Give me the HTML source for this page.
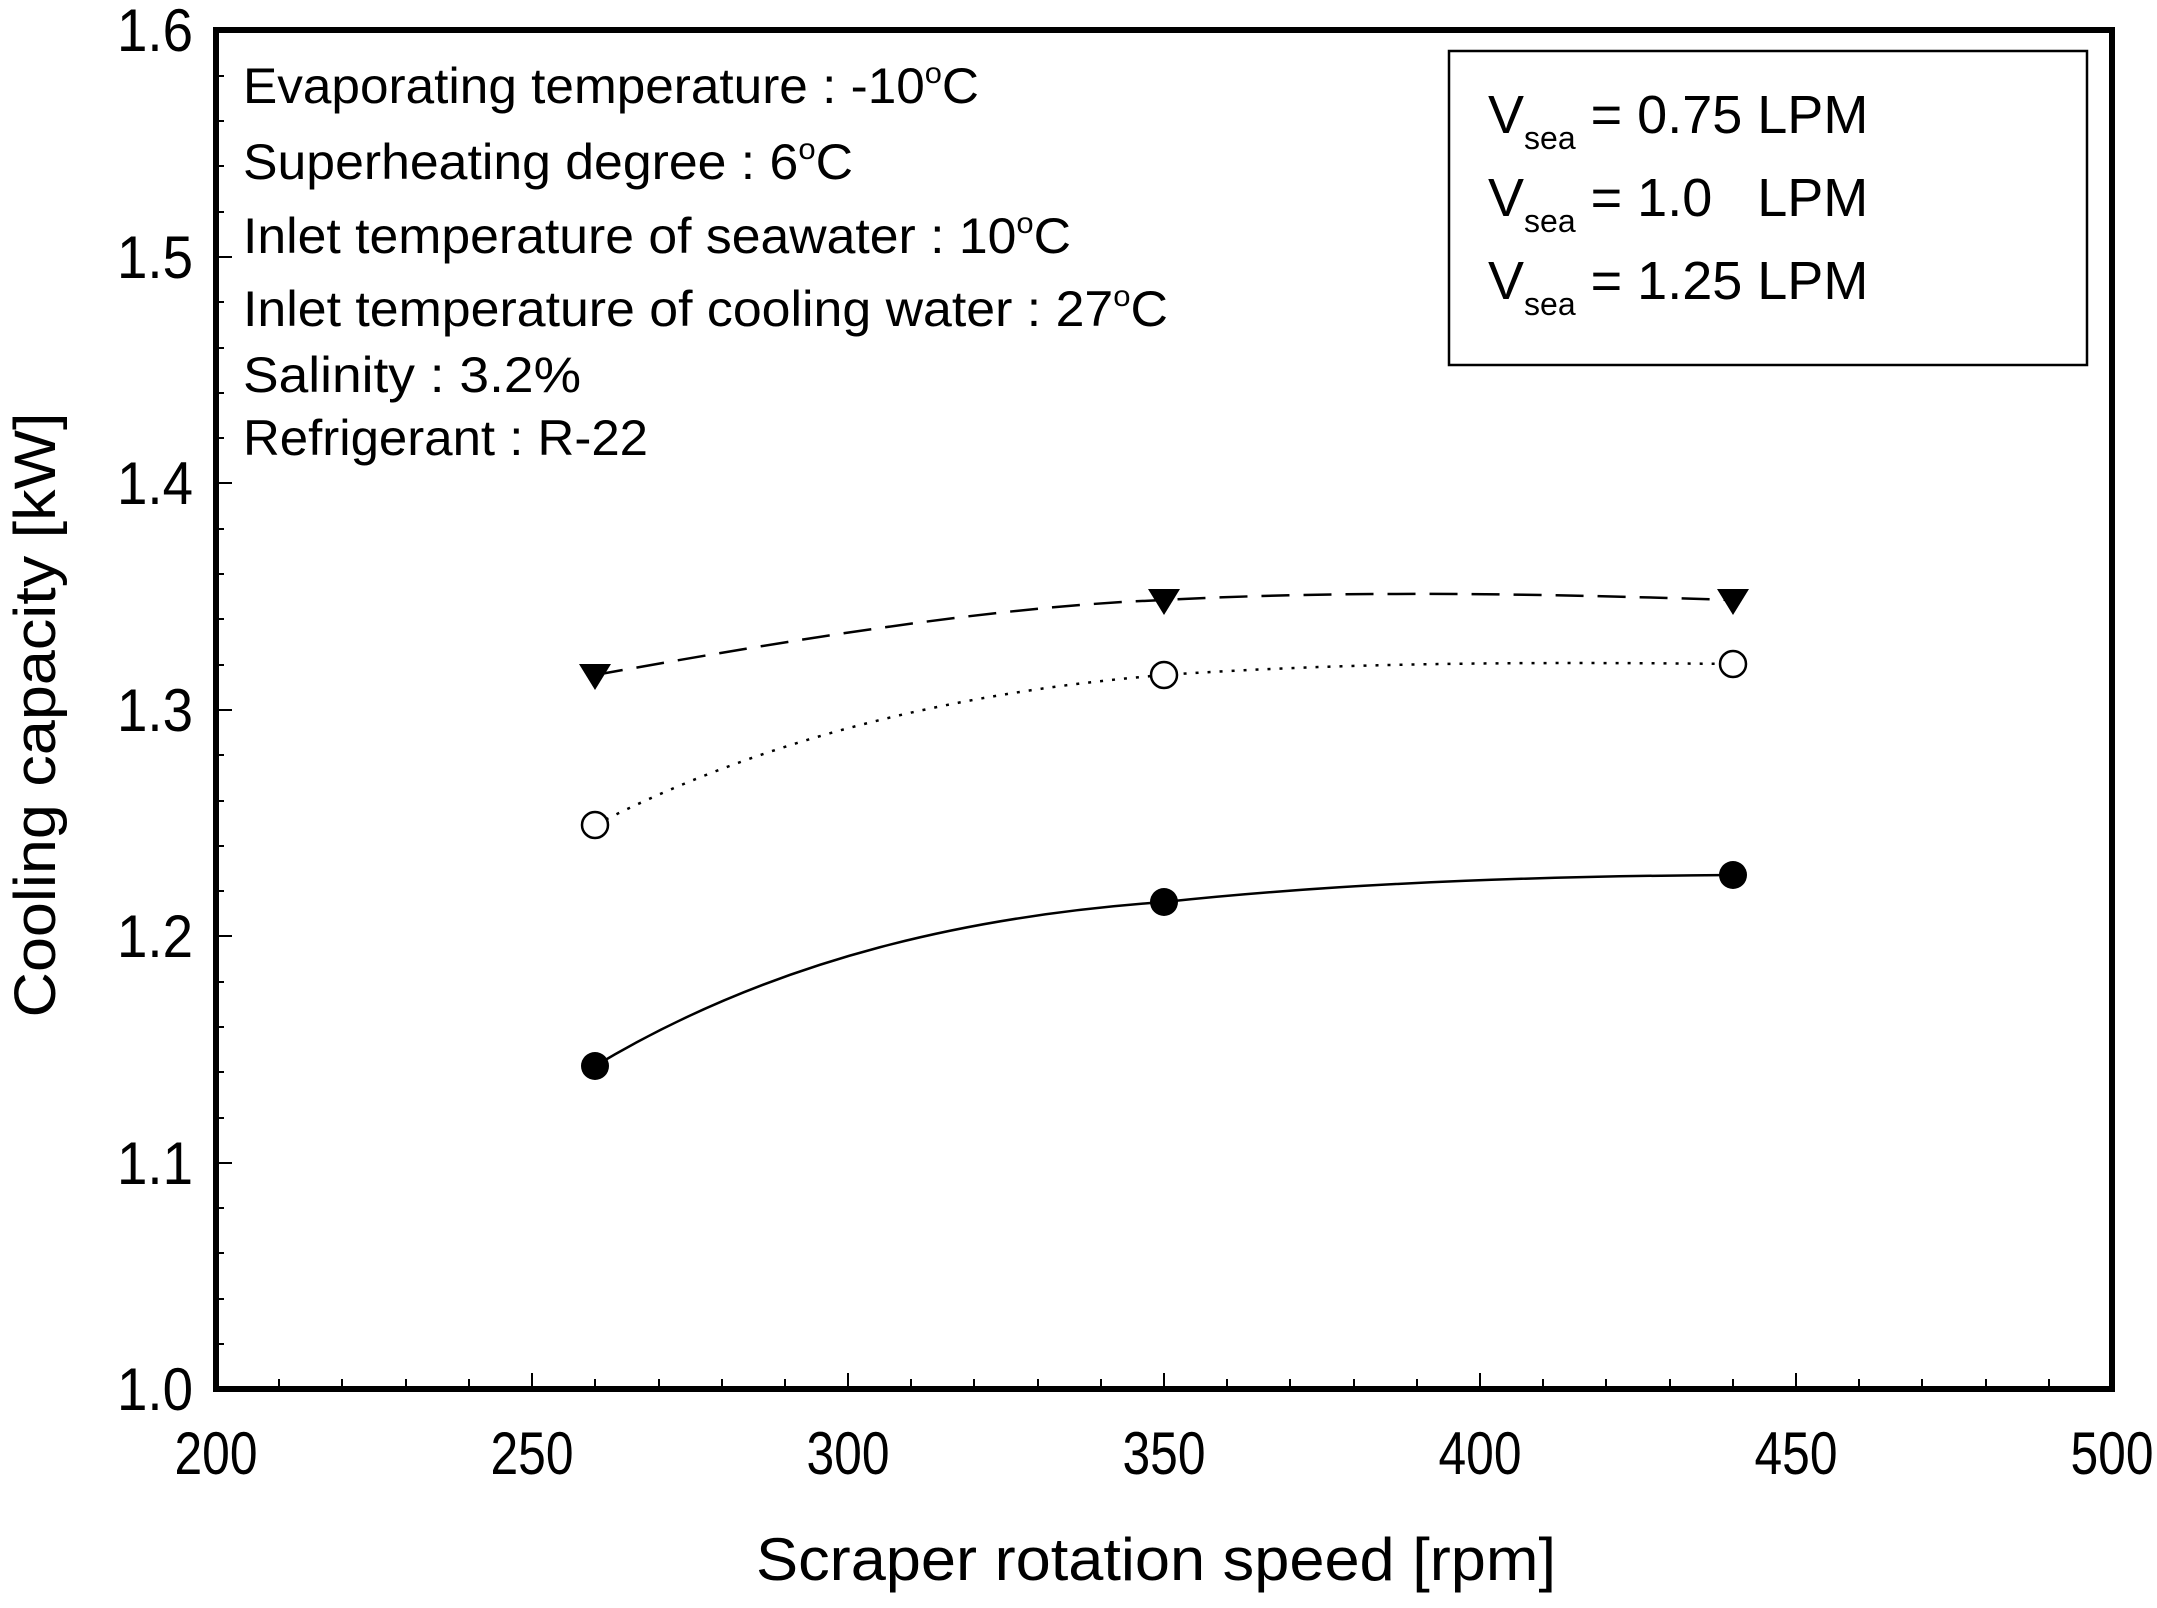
<!DOCTYPE html>
<html><head><meta charset="utf-8"><style>
html,body{margin:0;padding:0;background:#fff;}
svg{display:block;}
text{font-family:"Liberation Sans",Arial,sans-serif;fill:#000;}
</style></head><body>
<svg width="2157" height="1608" viewBox="0 0 2157 1608" xmlns="http://www.w3.org/2000/svg">
<rect width="2157" height="1608" fill="#fff"/>
<g stroke="#000" stroke-width="2">
<path d="M279,1389v-10M342,1389v-10M406,1389v-10M469,1389v-10M532,1389v-16M595,1389v-10M659,1389v-10M722,1389v-10M785,1389v-10M848,1389v-16M911,1389v-10M974,1389v-10M1038,1389v-10M1101,1389v-10M1164,1389v-16M1227,1389v-10M1290,1389v-10M1354,1389v-10M1417,1389v-10M1480,1389v-16M1543,1389v-10M1606,1389v-10M1670,1389v-10M1733,1389v-10M1796,1389v-16M1859,1389v-10M1922,1389v-10M1986,1389v-10M2049,1389v-10"/>
<path d="M216,1344h8M216,1299h8M216,1253h8M216,1208h8M216,1163h16M216,1118h8M216,1072h8M216,1027h8M216,982h8M216,936h16M216,891h8M216,846h8M216,801h8M216,755h8M216,710h16M216,665h8M216,619h8M216,574h8M216,529h8M216,483h16M216,438h8M216,393h8M216,348h8M216,302h8M216,257h16M216,212h8M216,166h8M216,121h8M216,76h8"/>
</g>
<rect x="216" y="30" width="1896" height="1359" fill="none" stroke="#000" stroke-width="6"/>
<g font-size="60" text-anchor="end">
<text x="193" y="1410" textLength="76" lengthAdjust="spacingAndGlyphs">1.0</text>
<text x="193" y="1184" textLength="76" lengthAdjust="spacingAndGlyphs">1.1</text>
<text x="193" y="957" textLength="76" lengthAdjust="spacingAndGlyphs">1.2</text>
<text x="193" y="731" textLength="76" lengthAdjust="spacingAndGlyphs">1.3</text>
<text x="193" y="504" textLength="76" lengthAdjust="spacingAndGlyphs">1.4</text>
<text x="193" y="278" textLength="76" lengthAdjust="spacingAndGlyphs">1.5</text>
<text x="193" y="51" textLength="76" lengthAdjust="spacingAndGlyphs">1.6</text>
</g>
<g font-size="60" text-anchor="middle">
<text x="216" y="1474" textLength="83" lengthAdjust="spacingAndGlyphs">200</text>
<text x="532" y="1474" textLength="83" lengthAdjust="spacingAndGlyphs">250</text>
<text x="848" y="1474" textLength="83" lengthAdjust="spacingAndGlyphs">300</text>
<text x="1164" y="1474" textLength="83" lengthAdjust="spacingAndGlyphs">350</text>
<text x="1480" y="1474" textLength="83" lengthAdjust="spacingAndGlyphs">400</text>
<text x="1796" y="1474" textLength="83" lengthAdjust="spacingAndGlyphs">450</text>
<text x="2112" y="1474" textLength="83" lengthAdjust="spacingAndGlyphs">500</text>
</g>
<text x="1156" y="1580" font-size="60" text-anchor="middle" textLength="800" lengthAdjust="spacingAndGlyphs">Scraper rotation speed [rpm]</text>
<text transform="translate(55,715) rotate(-90)" font-size="58" text-anchor="middle" textLength="605" lengthAdjust="spacingAndGlyphs">Cooling capacity [kW]</text>
<g font-size="50">
<text x="243" y="103" textLength="736" lengthAdjust="spacingAndGlyphs">Evaporating temperature : -10<tspan font-size="30" dy="-20">o</tspan><tspan dy="20">C</tspan></text>
<text x="243" y="179" textLength="610" lengthAdjust="spacingAndGlyphs">Superheating degree : 6<tspan font-size="30" dy="-20">o</tspan><tspan dy="20">C</tspan></text>
<text x="243" y="253" textLength="828" lengthAdjust="spacingAndGlyphs">Inlet temperature of seawater : 10<tspan font-size="30" dy="-20">o</tspan><tspan dy="20">C</tspan></text>
<text x="243" y="326" textLength="925" lengthAdjust="spacingAndGlyphs">Inlet temperature of cooling water : 27<tspan font-size="30" dy="-20">o</tspan><tspan dy="20">C</tspan></text>
<text x="243" y="392" textLength="338" lengthAdjust="spacingAndGlyphs">Salinity : 3.2%</text>
<text x="243" y="455" textLength="405" lengthAdjust="spacingAndGlyphs">Refrigerant : R-22</text>
</g>
<rect x="1449" y="51" width="638" height="314" fill="none" stroke="#000" stroke-width="2.5"/>
<g font-size="54">
<text x="1488" y="133">V<tspan font-size="32" dy="16">sea</tspan><tspan dy="-16"> = 0.75 LPM</tspan></text>
<text x="1488" y="216">V<tspan font-size="32" dy="16">sea</tspan><tspan dy="-16"> = 1.0 &#160; LPM</tspan></text>
<text x="1488" y="299">V<tspan font-size="32" dy="16">sea</tspan><tspan dy="-16"> = 1.25 LPM</tspan></text>
</g>
<path d="M595,675 C800,638 1000,606 1164,600 C1350,590 1550,594 1733,600" fill="none" stroke="#000" stroke-width="2.5" stroke-dasharray="28,14"/>
<path d="M595,825 C780,730 980,690 1164,675 C1350,662 1550,662 1733,664" fill="none" stroke="#000" stroke-width="2.5" stroke-dasharray="3,9"/>
<path d="M595,1066 C780,955 980,915 1164,902 C1350,882 1550,876 1733,875" fill="none" stroke="#000" stroke-width="2.5"/>
<g fill="#000">
<path d="M579,664h32l-16,26z"/>
<path d="M1148,589h32l-16,26z"/>
<path d="M1717,589h32l-16,26z"/>
<circle cx="595" cy="1066" r="14"/>
<circle cx="1164" cy="902" r="14"/>
<circle cx="1733" cy="875" r="14"/>
</g>
<g fill="#fff" stroke="#000" stroke-width="2.5">
<circle cx="595" cy="825" r="13"/>
<circle cx="1164" cy="675" r="13"/>
<circle cx="1733" cy="664" r="13"/>
</g>
</svg>
</body></html>
